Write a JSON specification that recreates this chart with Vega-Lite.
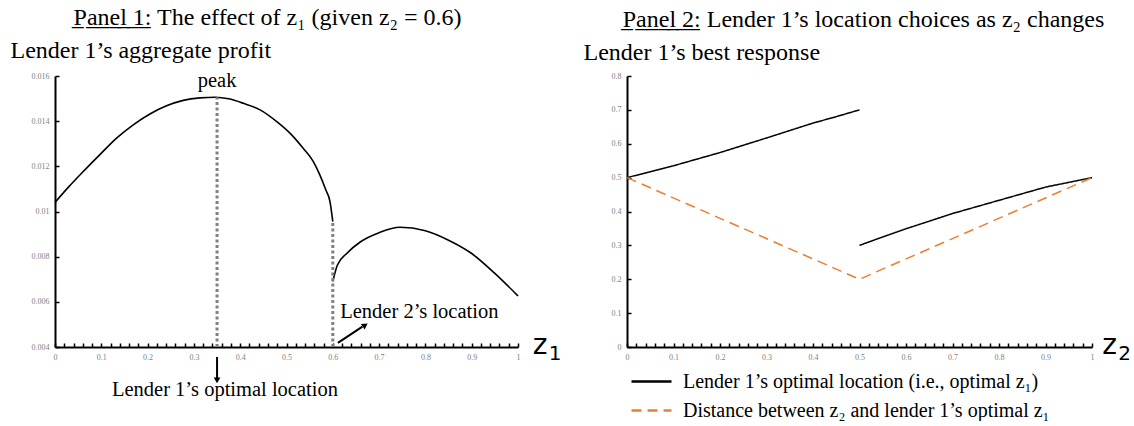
{
  "$schema": "https://vega.github.io/schema/vega-lite/v6.json",
  "background": "white",
  "padding": {"left": 10, "top": 6, "right": 5, "bottom": 0},
  "bounds": "flush",
  "spacing": 109,
  "config": {
    "view": {"stroke": null},
    "font": "Liberation Serif",
    "title": {"font": "Liberation Serif", "fontSize": 24, "fontWeight": "normal", "color": "black", "anchor": "middle", "frame": "group"},
    "axis": {
      "grid": false,
      "domainColor": "black",
      "domainWidth": 2,
      "tickColor": "black",
      "tickWidth": 1.5,
      "tickSize": -4,
      "labelColor": "#808080",
      "labelFont": "Liberation Serif",
      "labelFontSize": 8,
      "titleFont": "Liberation Serif",
      "titleFontSize": 24,
      "titleFontWeight": "normal",
      "titleColor": "black"
    },
    "legend": {
      "labelFont": "Liberation Serif",
      "labelFontSize": 20,
      "labelColor": "black",
      "labelLimit": 700
    }
  },
  "datasets": {
    "p1curve": [
      {"x": 0, "y": 0.0104, "seg": "a"},
      {"x": 0.03, "y": 0.0111, "seg": "a"},
      {"x": 0.061, "y": 0.01177, "seg": "a"},
      {"x": 0.097, "y": 0.01252, "seg": "a"},
      {"x": 0.133, "y": 0.01325, "seg": "a"},
      {"x": 0.169, "y": 0.01384, "seg": "a"},
      {"x": 0.205, "y": 0.01432, "seg": "a"},
      {"x": 0.241, "y": 0.01468, "seg": "a"},
      {"x": 0.277, "y": 0.01492, "seg": "a"},
      {"x": 0.313, "y": 0.01503, "seg": "a"},
      {"x": 0.347, "y": 0.01506, "seg": "a"},
      {"x": 0.375, "y": 0.01499, "seg": "a"},
      {"x": 0.407, "y": 0.01479, "seg": "a"},
      {"x": 0.443, "y": 0.0145, "seg": "a"},
      {"x": 0.479, "y": 0.01398, "seg": "a"},
      {"x": 0.508, "y": 0.01346, "seg": "a"},
      {"x": 0.536, "y": 0.0128, "seg": "a"},
      {"x": 0.558, "y": 0.01221, "seg": "a"},
      {"x": 0.572, "y": 0.01162, "seg": "a"},
      {"x": 0.585, "y": 0.01095, "seg": "a"},
      {"x": 0.594, "y": 0.01043, "seg": "a"},
      {"x": 0.6, "y": 0.00955, "seg": "a"},
      {"x": 0.6, "y": 0.0069, "seg": "b"},
      {"x": 0.61, "y": 0.00763, "seg": "b"},
      {"x": 0.63, "y": 0.00814, "seg": "b"},
      {"x": 0.66, "y": 0.00866, "seg": "b"},
      {"x": 0.7, "y": 0.00906, "seg": "b"},
      {"x": 0.745, "y": 0.0093, "seg": "b"},
      {"x": 0.8, "y": 0.00915, "seg": "b"},
      {"x": 0.85, "y": 0.00873, "seg": "b"},
      {"x": 0.9, "y": 0.00814, "seg": "b"},
      {"x": 0.95, "y": 0.00726, "seg": "b"},
      {"x": 1.0, "y": 0.00626, "seg": "b"}
    ],
    "p2lines": [
      {"x": 0, "y": 0.5, "seg": "a", "s": "Lender 1’s optimal location (i.e., optimal z₁)"},
      {"x": 0.1, "y": 0.535, "seg": "a", "s": "Lender 1’s optimal location (i.e., optimal z₁)"},
      {"x": 0.2, "y": 0.574, "seg": "a", "s": "Lender 1’s optimal location (i.e., optimal z₁)"},
      {"x": 0.3, "y": 0.617, "seg": "a", "s": "Lender 1’s optimal location (i.e., optimal z₁)"},
      {"x": 0.4, "y": 0.661, "seg": "a", "s": "Lender 1’s optimal location (i.e., optimal z₁)"},
      {"x": 0.45, "y": 0.68, "seg": "a", "s": "Lender 1’s optimal location (i.e., optimal z₁)"},
      {"x": 0.5, "y": 0.7, "seg": "a", "s": "Lender 1’s optimal location (i.e., optimal z₁)"},
      {"x": 0.5, "y": 0.3, "seg": "b", "s": "Lender 1’s optimal location (i.e., optimal z₁)"},
      {"x": 0.53, "y": 0.315, "seg": "b", "s": "Lender 1’s optimal location (i.e., optimal z₁)"},
      {"x": 0.6, "y": 0.349, "seg": "b", "s": "Lender 1’s optimal location (i.e., optimal z₁)"},
      {"x": 0.7, "y": 0.394, "seg": "b", "s": "Lender 1’s optimal location (i.e., optimal z₁)"},
      {"x": 0.8, "y": 0.433, "seg": "b", "s": "Lender 1’s optimal location (i.e., optimal z₁)"},
      {"x": 0.9, "y": 0.472, "seg": "b", "s": "Lender 1’s optimal location (i.e., optimal z₁)"},
      {"x": 1.0, "y": 0.5, "seg": "b", "s": "Lender 1’s optimal location (i.e., optimal z₁)"},
      {"x": 0, "y": 0.5, "seg": "c", "s": "Distance between z₂ and lender 1’s optimal z₁"},
      {"x": 0.5, "y": 0.2, "seg": "c", "s": "Distance between z₂ and lender 1’s optimal z₁"},
      {"x": 1.0, "y": 0.5, "seg": "c", "s": "Distance between z₂ and lender 1’s optimal z₁"}
    ]
  },
  "hconcat": [
    {
      "width": 463,
      "height": 271,
      "title": {"text": "P̲a̲n̲e̲l̲ ̲1̲: The effect of z₁ (given z₂ = 0.6)", "dx": -19, "offset": 8},
      "layer": [
        {
          "data": {"name": "p1curve"},
          "mark": {"type": "line", "color": "black", "strokeWidth": 1.6, "interpolate": "monotone"},
          "encoding": {
            "x": {"field": "x", "type": "quantitative", "scale": {"domain": [0, 1], "nice": false, "zero": false},
              "axis": {"title": null, "tickCount": 100, "values": [0,0.02,0.04,0.06,0.08,0.1,0.12,0.14,0.16,0.18,0.2,0.22,0.24,0.26,0.28,0.3,0.32,0.34,0.36,0.38,0.4,0.42,0.44,0.46,0.48,0.5,0.52,0.54,0.56,0.58,0.6,0.62,0.64,0.66,0.68,0.7,0.72,0.74,0.76,0.78,0.8,0.82,0.84,0.86,0.88,0.9,0.92,0.94,0.96,0.98,1],
                "labelExpr": "abs(datum.value*10 - round(datum.value*10)) < 0.000001 ? format(datum.value, '~g') : ''", "labelPadding": 10, "labelFlush": false, "labelOverlap": false}},
            "y": {"field": "y", "type": "quantitative", "scale": {"domain": [0.004, 0.016], "nice": false, "zero": false},
              "axis": {"title": "Lender 1’s aggregate profit", "tickCount": 20, "values": [0.004,0.006,0.008,0.01,0.012,0.014,0.016], "format": "~g", "labelPadding": 10, "labelOverlap": false,
                "titleAngle": 0, "titleAlign": "left", "titleBaseline": "middle", "titleX": -45, "titleY": -26}},
            "detail": {"field": "seg"}
          }
        },
        {
          "data": {"values": [{"x": 0.35, "y": 0.004, "y2": 0.01506}, {"x": 0.6, "y": 0.004, "y2": 0.00955}]},
          "mark": {"type": "rule", "color": "#808080", "strokeWidth": 3, "strokeDash": [3, 2.5]},
          "encoding": {
            "x": {"field": "x", "type": "quantitative"},
            "y": {"field": "y", "type": "quantitative"},
            "y2": {"field": "y2"}
          }
        },
        {
          "data": {"values": [{"x": 0.35, "y": 0.00356, "x2": 0.35, "y2": 0.0026}, {"x": 0.611, "y": 0.00418, "x2": 0.664, "y2": 0.0049}]},
          "mark": {"type": "rule", "color": "black", "strokeWidth": 2},
          "encoding": {
            "x": {"field": "x", "type": "quantitative"},
            "y": {"field": "y", "type": "quantitative"},
            "x2": {"field": "x2"},
            "y2": {"field": "y2"}
          }
        },
        {
          "data": {"values": [{"x": 0.35, "y": 0.00252, "a": 180}, {"x": 0.67, "y": 0.00497, "a": 56}]},
          "mark": {"type": "point", "shape": "triangle-up", "filled": true, "color": "black", "size": 45, "opacity": 1},
          "encoding": {
            "x": {"field": "x", "type": "quantitative"},
            "y": {"field": "y", "type": "quantitative"},
            "angle": {"field": "a", "type": "quantitative", "scale": null}
          }
        },
        {
          "data": {"values": [
            {"x": 0.35, "y": 0.01578, "t": "peak"},
            {"x": 0.367, "y": 0.0021, "t": "Lender 1’s optimal location"}
          ]},
          "mark": {"type": "text", "font": "Liberation Serif", "fontSize": 20.5, "color": "black", "align": "center", "baseline": "middle"},
          "encoding": {
            "x": {"field": "x", "type": "quantitative"},
            "y": {"field": "y", "type": "quantitative"},
            "text": {"field": "t"}
          }
        },
        {
          "data": {"values": [
            {"x": 0.616, "y": 0.00555, "t": "Lender 2’s location"}
          ]},
          "mark": {"type": "text", "font": "Liberation Serif", "fontSize": 20.5, "color": "black", "align": "left", "baseline": "middle"},
          "encoding": {
            "x": {"field": "x", "type": "quantitative"},
            "y": {"field": "y", "type": "quantitative"},
            "text": {"field": "t"}
          }
        },
        {
          "data": {"values": [{"x": 1.032, "y": 0.004, "t": "z"}]},
          "mark": {"type": "text", "font": "DejaVu Sans", "fontSize": 28, "color": "black", "align": "left", "baseline": "middle", "dy": -1},
          "encoding": {
            "x": {"field": "x", "type": "quantitative"},
            "y": {"field": "y", "type": "quantitative"},
            "text": {"field": "t"}
          }
        },
        {
          "data": {"values": [{"x": 1.032, "y": 0.004, "t": "1"}]},
          "mark": {"type": "text", "font": "DejaVu Sans", "fontSize": 20, "color": "black", "align": "left", "baseline": "middle", "dx": 16, "dy": 7},
          "encoding": {
            "x": {"field": "x", "type": "quantitative"},
            "y": {"field": "y", "type": "quantitative"},
            "text": {"field": "t"}
          }
        }
      ]
    },
    {
      "width": 465,
      "height": 271,
      "title": {"text": "P̲a̲n̲e̲l̲ ̲2̲: Lender 1’s location choices as z₂ changes", "dx": 4, "offset": 8},
      "layer": [
        {
          "data": {"name": "p2lines"},
          "mark": {"type": "line", "strokeWidth": 1.5},
          "encoding": {
            "x": {"field": "x", "type": "quantitative", "scale": {"domain": [0, 1], "nice": false, "zero": false},
              "axis": {"title": null, "tickCount": 100, "values": [0,0.02,0.04,0.06,0.08,0.1,0.12,0.14,0.16,0.18,0.2,0.22,0.24,0.26,0.28,0.3,0.32,0.34,0.36,0.38,0.4,0.42,0.44,0.46,0.48,0.5,0.52,0.54,0.56,0.58,0.6,0.62,0.64,0.66,0.68,0.7,0.72,0.74,0.76,0.78,0.8,0.82,0.84,0.86,0.88,0.9,0.92,0.94,0.96,0.98,1],
                "labelExpr": "abs(datum.value*10 - round(datum.value*10)) < 0.000001 ? format(datum.value, '~g') : ''", "labelPadding": 10, "labelFlush": false, "labelOverlap": false}},
            "y": {"field": "y", "type": "quantitative", "scale": {"domain": [0, 0.8], "nice": false, "zero": false},
              "axis": {"title": "Lender 1’s best response", "tickCount": 20, "values": [0,0.1,0.2,0.3,0.4,0.5,0.6,0.7,0.8], "format": "~g", "labelPadding": 10, "labelOverlap": false,
                "titleAngle": 0, "titleAlign": "left", "titleBaseline": "middle", "titleX": -44, "titleY": -24}},
            "detail": {"field": "seg"},
            "color": {"field": "s", "type": "nominal",
              "scale": {"domain": ["Lender 1’s optimal location (i.e., optimal z₁)", "Distance between z₂ and lender 1’s optimal z₁"], "range": ["black", "#ED7D31"]},
              "legend": {"title": null, "orient": "none", "legendX": 585, "legendY": 294, "symbolType": "M-2,0H2", "symbolSize": 400, "symbolStrokeWidth": 2.5, "rowPadding": 7, "labelOffset": 20,
                "encode": {"symbols": {"update": {"strokeDash": {"signal": "indexof(datum.value, 'Distance') >= 0 ? [16, 7] : [1, 0]"}}}}}},
            "strokeDash": {"field": "s", "type": "nominal",
              "scale": {"domain": ["Lender 1’s optimal location (i.e., optimal z₁)", "Distance between z₂ and lender 1’s optimal z₁"], "range": [[1, 0], [10, 6]]},
              "legend": {"title": null, "orient": "none", "legendX": 585, "legendY": 294, "symbolType": "M-2,0H2", "symbolSize": 400, "symbolStrokeWidth": 2.5, "rowPadding": 7, "labelOffset": 20,
                "encode": {"symbols": {"update": {"strokeDash": {"signal": "indexof(datum.value, 'Distance') >= 0 ? [16, 7] : [1, 0]"}}}}}}
          }
        },
        {
          "data": {"values": [{"x": 1.022, "y": 0, "t": "z"}]},
          "mark": {"type": "text", "font": "DejaVu Sans", "fontSize": 28, "color": "black", "align": "left", "baseline": "middle", "dy": -1},
          "encoding": {
            "x": {"field": "x", "type": "quantitative"},
            "y": {"field": "y", "type": "quantitative"},
            "text": {"field": "t"}
          }
        },
        {
          "data": {"values": [{"x": 1.022, "y": 0, "t": "2"}]},
          "mark": {"type": "text", "font": "DejaVu Sans", "fontSize": 20, "color": "black", "align": "left", "baseline": "middle", "dx": 16, "dy": 7},
          "encoding": {
            "x": {"field": "x", "type": "quantitative"},
            "y": {"field": "y", "type": "quantitative"},
            "text": {"field": "t"}
          }
        }
      ]
    }
  ]
}
